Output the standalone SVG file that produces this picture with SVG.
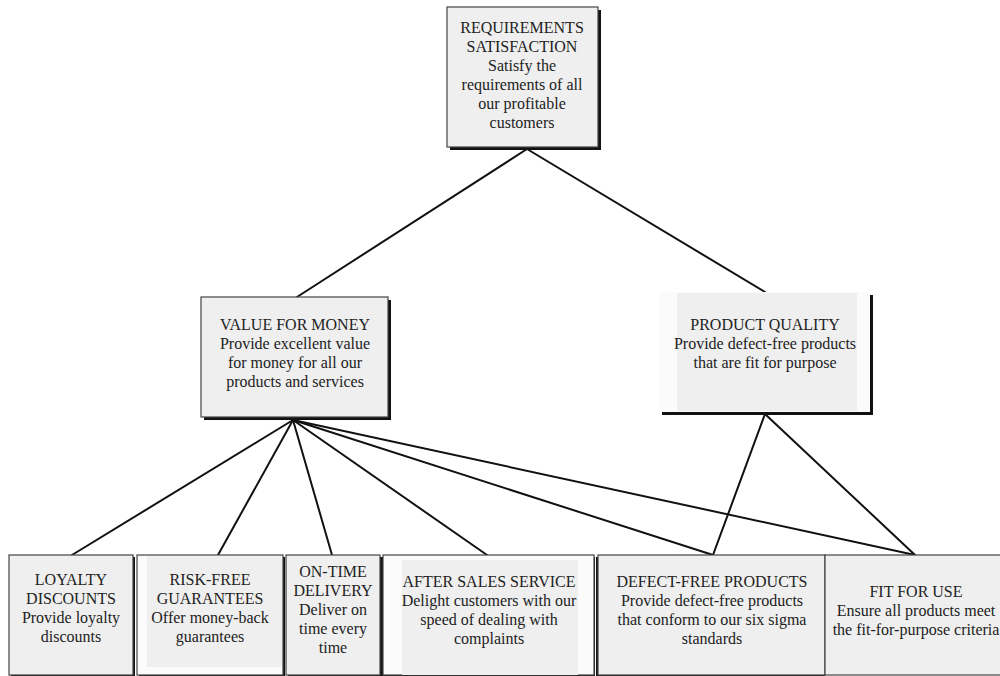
<svg xmlns="http://www.w3.org/2000/svg" width="1000" height="676" viewBox="0 0 1000 676">
  <style>
    .box { fill: #efefef; stroke: #444; stroke-width: 1.2; }
    .pad { fill: #fbfbfb; stroke: none; }
    .inner { fill: #efefef; stroke: none; }
    .shadow { fill: #111; }
    .edge { stroke: #111; stroke-width: 2; fill: none; stroke-linecap: round; }
    text { font-family: "Liberation Serif", "Times New Roman", serif; font-size: 16px; fill: #222; text-anchor: middle; }
  </style>
  <rect width="1000" height="676" fill="#ffffff"/>

  <g id="connectors">
    <line class="edge" x1="527" y1="149" x2="297" y2="297"/>
    <line class="edge" x1="527" y1="149" x2="765" y2="292"/>
    <line class="edge" x1="293" y1="420" x2="72" y2="555"/>
    <line class="edge" x1="293" y1="420" x2="218" y2="555"/>
    <line class="edge" x1="293" y1="420" x2="332" y2="555"/>
    <line class="edge" x1="293" y1="420" x2="487" y2="555"/>
    <line class="edge" x1="293" y1="420" x2="713" y2="555"/>
    <line class="edge" x1="293" y1="420" x2="915" y2="555"/>
    <line class="edge" x1="765" y1="414" x2="713" y2="555"/>
    <line class="edge" x1="765" y1="414" x2="915" y2="555"/>
  </g>

  <g id="requirements-satisfaction">
    <rect class="shadow" x="450" y="10" width="151" height="140"/>
    <rect class="box" x="447" y="7" width="151" height="140"/>
    <text x="522" y="33">REQUIREMENTS</text>
    <text x="522" y="52">SATISFACTION</text>
    <text x="522" y="71">Satisfy the</text>
    <text x="522" y="90">requirements of all</text>
    <text x="522" y="109">our profitable</text>
    <text x="522" y="128">customers</text>
  </g>

  <g id="value-for-money">
    <rect class="shadow" x="204" y="300" width="187" height="120"/>
    <rect class="box" x="201" y="297" width="187" height="120"/>
    <text x="295" y="330">VALUE FOR MONEY</text>
    <text x="295" y="349">Provide excellent value</text>
    <text x="295" y="368">for money for all our</text>
    <text x="295" y="387">products and services</text>
  </g>

  <g id="product-quality">
    <rect class="shadow" x="662" y="295" width="211" height="120"/>
    <rect class="box pad" x="659" y="292" width="211" height="120" style="fill:#fbfbfb"/>
    <rect class="inner" x="677" y="293" width="180" height="118"/>
    <text x="765" y="330">PRODUCT QUALITY</text>
    <text x="765" y="349">Provide defect-free products</text>
    <text x="765" y="368">that are fit for purpose</text>
  </g>

  <g id="loyalty-discounts">
    <rect class="shadow" x="11" y="557" width="124" height="120"/>
    <rect class="box" x="9" y="555" width="124" height="120"/>
    <text x="71" y="585">LOYALTY</text>
    <text x="71" y="604">DISCOUNTS</text>
    <text x="71" y="623">Provide loyalty</text>
    <text x="71" y="642">discounts</text>
  </g>

  <g id="risk-free-guarantees">
    <rect class="shadow" x="139" y="557" width="146" height="120"/>
    <rect class="box" x="137" y="555" width="146" height="120" style="fill:#fbfbfb"/>
    <rect class="inner" x="147" y="556" width="135" height="111"/>
    <text x="210" y="585">RISK-FREE</text>
    <text x="210" y="604">GUARANTEES</text>
    <text x="210" y="623">Offer money-back</text>
    <text x="210" y="642">guarantees</text>
  </g>

  <g id="on-time-delivery">
    <rect class="shadow" x="288" y="557" width="94" height="120"/>
    <rect class="box" x="286" y="555" width="94" height="120"/>
    <text x="333" y="577">ON-TIME</text>
    <text x="333" y="596">DELIVERY</text>
    <text x="333" y="615">Deliver on</text>
    <text x="333" y="634">time every</text>
    <text x="333" y="653">time</text>
  </g>

  <g id="after-sales-service">
    <rect class="shadow" x="381" y="557" width="214" height="120"/>
    <rect class="box" x="383" y="555" width="211" height="120" style="fill:#fbfbfb"/>
    <rect class="inner" x="402" y="560" width="176" height="115"/>
    <text x="489" y="587">AFTER SALES SERVICE</text>
    <text x="489" y="606">Delight customers with our</text>
    <text x="489" y="625">speed of dealing with</text>
    <text x="489" y="644">complaints</text>
  </g>

  <g id="defect-free-products">
    <rect class="shadow" x="596" y="557" width="229" height="120"/>
    <rect class="box" x="598" y="555" width="227" height="120"/>
    <text x="712" y="587">DEFECT-FREE PRODUCTS</text>
    <text x="712" y="606">Provide defect-free products</text>
    <text x="712" y="625">that conform to our six sigma</text>
    <text x="712" y="644">standards</text>
  </g>

  <g id="fit-for-use">
    <rect class="box" x="825" y="555" width="184" height="120"/>
    <text x="916" y="597">FIT FOR USE</text>
    <text x="916" y="616">Ensure all products meet</text>
    <text x="916" y="635">the fit-for-purpose criteria</text>
  </g>
</svg>
